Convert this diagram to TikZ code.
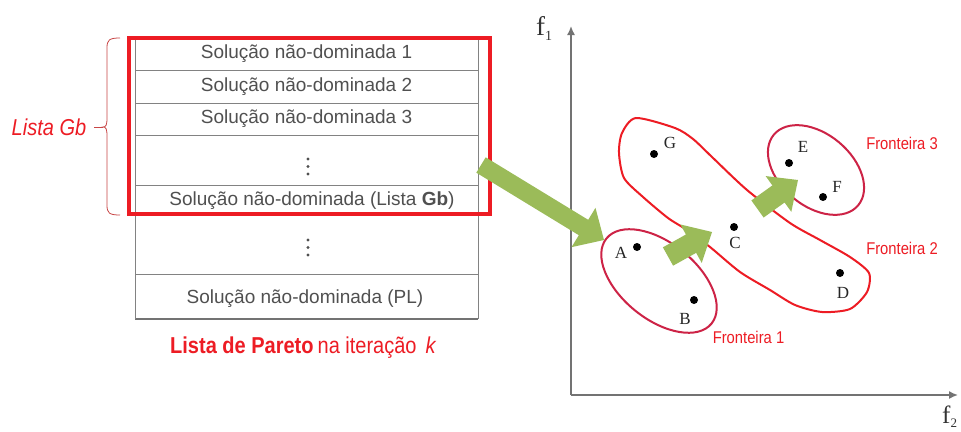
\documentclass[tikz,border=0pt]{standalone}
\usepackage{fontspec}
\setmainfont{Liberation Sans}
\newfontfamily\cond[FakeStretch=0.87]{Liberation Sans}
\newfontfamily\serifp{Liberation Serif}
\usetikzlibrary{calc,arrows.meta}

\definecolor{lred}{RGB}{237,28,36}
\definecolor{ered}{RGB}{205,35,70}
\definecolor{agreen}{RGB}{155,187,89}
\definecolor{tgray}{RGB}{80,80,80}
\definecolor{lgray}{RGB}{130,130,130}
\definecolor{axgray}{RGB}{115,115,115}
\definecolor{bracered}{RGB}{200,70,70}

\newcommand\greenarrow[5]{%
  \coordinate (fb) at ($(#2)!#5!(#1)$);
  \fill[fat] ($(#1)!#3!90:(#2)$) -- ($(fb)!#3!90:(#2)$) -- ($(fb)!#4!90:(#2)$)
    -- (#2) -- ($(fb)!#4!-90:(#2)$) -- ($(fb)!#3!-90:(#2)$) -- ($(#1)!#3!-90:(#2)$) -- cycle;
}

\begin{document}
\begin{tikzpicture}[x=1pt,y=-1pt,
  rowtext/.style={font=\fontsize{19}{22}\selectfont, text=tgray, inner sep=0},
  tline/.style={draw=lgray, line width=1pt},
  ptlabel/.style={font=\serifp\fontsize{17}{20}\selectfont, text=black!85, inner sep=0},
  pt/.style={circle, fill=black, inner sep=0, minimum size=8pt},
  frontlabel/.style={font=\cond\fontsize{17}{20}\selectfont, text=lred, inner sep=0},
  fat/.style={fill=agreen, draw=none},
  axis/.style={draw=axgray, line width=1.6pt, -{Latex[length=9pt,width=8pt]}},
  tdot/.style={fill=tgray}
]
\clip (0,0) rectangle (961,431);
\fill[white] (0,0) rectangle (961,431);

% ---------- table ----------
\foreach \y in {38,70,103,135,185,214,274}
  \draw[tline] (135,\y) -- (478,\y);
\draw[draw=axgray, line width=1.6pt] (135,319) -- (478,319);
\draw[tline] (135,38) -- (135,319);
\draw[tline] (478,38) -- (478,319);

\node[rowtext] (r1) at (306.5,54) {Solução não-dominada 1};
\node[rowtext] (r2) at (306.5,86.5) {Solução não-dominada 2};
\node[rowtext] (r3) at (306.5,119) {Solução não-dominada 3};
\foreach \y in {159,166.5,174} \fill[tdot] (308,\y) circle (1.7pt);
\node[rowtext] (r5) at (312,201) {Solução não-dominada (Lista \textbf{Gb})};
\foreach \y in {240,247.5,255} \fill[tdot] (308,\y) circle (1.7pt);
\node[rowtext] (r7) at (305,299) {Solução não-dominada (PL)};

% red box
\draw[lred, line width=4pt] (128.5,37.5) rectangle (489.5,213.7);

% brace and label
\draw[bracered, line width=0.8pt] (120,38) .. controls (109,38) and (107,40) .. (107,48)
  -- (107,118) .. controls (107,125) and (106,127) .. (103,127)
  .. controls (106,127) and (107,129) .. (107,136)
  -- (107,205) .. controls (107,213) and (109,215) .. (120,215);
\coordinate (dashL) at (94,127);
\coordinate (dashR) at (103,127);
\draw[bracered, line width=0.8pt] (dashL) -- (dashR);
\node[font=\cond\itshape\fontsize{23}{26}\selectfont, text=lred, inner sep=0] (gb) at (49,127) {Lista Gb};

% caption
\node[text=lred, inner sep=0, anchor=west] (cap) at (170,348)
  {\cond\fontsize{23}{26}\selectfont\textbf{Lista de Pareto}\hspace{4pt}na iteração\hspace{9pt}\textit{k}};

% ---------- plot ----------
\coordinate (O) at (571,395);
\coordinate (Ytip) at (571,26);
\coordinate (Xtip) at (958,395);
\draw[axis] (O) -- (Ytip);
\draw[axis] (O) -- (Xtip);
\node[font=\serifp\fontsize{27}{29}\selectfont, text=black!80, inner sep=0, anchor=base west] (f1) at (536,35)
  {f\raisebox{-5pt}{\fontsize{14}{14}\selectfont 1}};
\node[font=\serifp\fontsize{25}{27}\selectfont, text=black!80, inner sep=0, anchor=base west] (f2) at (942,423)
  {f\raisebox{-4pt}{\fontsize{13}{13}\selectfont 2}};

% fronts
\draw[ered, line width=2pt, rotate around={-39:(659,281)}] (659,281) ellipse [x radius=67.6pt, y radius=38pt];
\draw[ered, line width=2pt, rotate around={-40:(816,170)}] (816,170) ellipse [x radius=55pt, y radius=36pt];
\draw[lred, line width=2pt] plot[smooth cycle, tension=0.45] coordinates {
  (636,118) (675,128) (693,139) (712,157) (747,190) (790,223) (820,240) (850,257)
  (869,273) (867,292) (850,309) (822,312) (795,305) (770,290) (740,272) (710,247)
  (687,230) (668,218) (643,197) (624,178) (619,153) (622,133)};

% points
\node[pt] (G) at (654,154) {};  \node[ptlabel] (Gl) at (670,143) {G};
\node[pt] (E) at (789,163) {};  \node[ptlabel] (El) at (803,147) {E};
\node[pt] (F) at (823,197) {};  \node[ptlabel] (Fl) at (837,187) {F};
\node[pt] (C) at (734,227) {};  \node[ptlabel] (Cl) at (735,243) {C};
\node[pt] (A) at (637,247) {};  \node[ptlabel] (Al) at (621,253) {A};
\node[pt] (B) at (694,300) {};  \node[ptlabel] (Bl) at (685,319) {B};
\node[pt] (D) at (840,273) {};  \node[ptlabel] (Dl) at (843,293) {D};

\node[frontlabel] (fr3) at (902,143) {Fronteira 3};
\node[frontlabel] (fr2) at (902,248) {Fronteira 2};
\node[frontlabel] (fr1) at (748.5,337) {Fronteira 1};

% green arrows
\coordinate (a1t) at (481,165); \coordinate (a1h) at (604,240);
\greenarrow{a1t}{a1h}{9pt}{23pt}{24pt}
\coordinate (a2t) at (668,256.5); \coordinate (a2h) at (712,232);
\greenarrow{a2t}{a2h}{10.5pt}{22pt}{24pt}
\coordinate (a3t) at (757.5,209); \coordinate (a3h) at (798,180);
\greenarrow{a3t}{a3h}{10.5pt}{22pt}{24pt}
\end{tikzpicture}
\end{document}
